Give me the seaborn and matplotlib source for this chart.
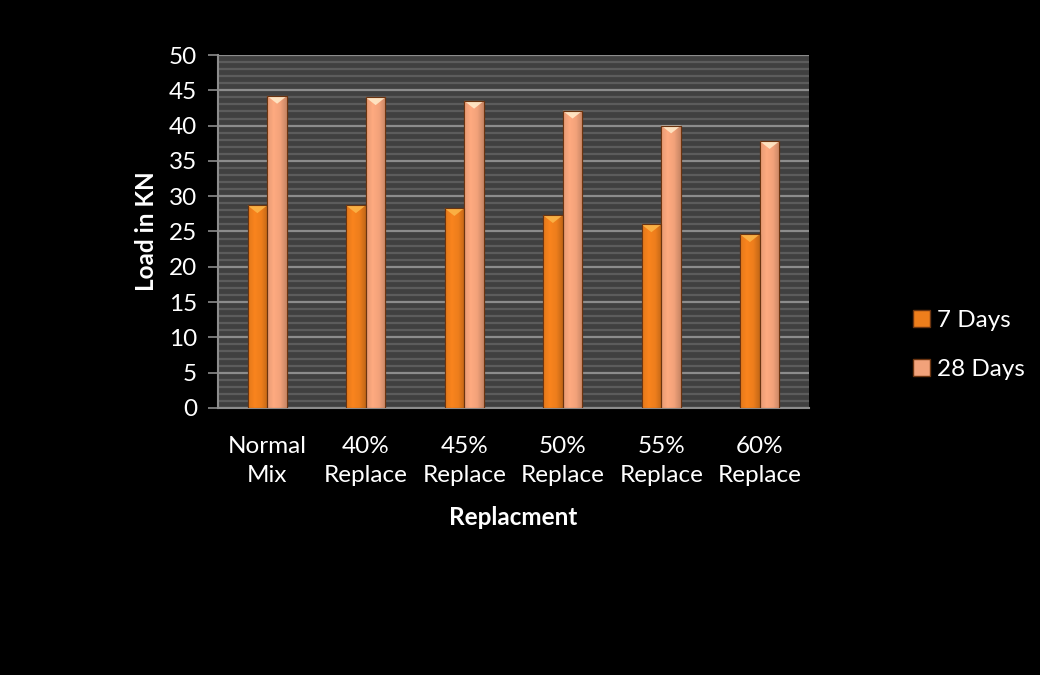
import numpy as np
import pandas as pd
import seaborn as sns
import matplotlib.pyplot as plt
from matplotlib.patches import Polygon, Patch
from matplotlib.colors import LinearSegmentedColormap, to_rgb
from matplotlib.ticker import MultipleLocator

# Load (kN) for each mix at two curing ages
categories = ["Normal\nMix", "40%\nReplace", "45%\nReplace", "50%\nReplace", "55%\nReplace", "60%\nReplace"]
days_7 = [28.7, 28.7, 28.3, 27.3, 26.0, 24.6]
days_28 = [44.2, 44.0, 43.5, 42.1, 40.0, 37.8]
series = ["7 Days", "28 Days"]
y_ticks = list(range(0, 51, 5))

colors = ["#EE7E1C", "#F2A27A"]
top_colors = ["#FBB548", "#FFE9C8"]
FS = 17.5

df = pd.DataFrame({
    "Replacment": categories * 2,
    "Load": days_7 + days_28,
    "Age": [series[0]] * len(categories) + [series[1]] * len(categories),
})

sns.set_theme(style="dark")
plt.rcParams["font.family"] = ["Lato", "DejaVu Sans"]

fig = plt.figure(figsize=(10.4, 6.75), dpi=100, facecolor="black")
ax = fig.add_axes([0.2096, 0.3956, 0.5683, 0.5229])
ax.set_facecolor("#404040")

sns.barplot(data=df, x="Replacment", y="Load", hue="Age", hue_order=series,
            palette=colors, width=0.4, saturation=1, legend=False,
            edgecolor="#6b3410", linewidth=0.8, ax=ax, zorder=3)

ax.set_ylim(0, 50)
xlim = ax.get_xlim()

# Shade each bar with a horizontal gradient and a bevelled top
def shade(c, f):
    r = np.array(to_rgb(c)) * f
    return tuple(np.clip(r, 0, 1))

bars = [p for p in ax.patches]
n = len(categories)
for i, bar in enumerate(bars):
    k = 0 if i < n else 1
    base = colors[k]
    x0 = bar.get_x()
    w = bar.get_width()
    h = bar.get_height()
    cmap = LinearSegmentedColormap.from_list(
        "g", [shade(base, 0.95), shade(base, 1.05), base, shade(base, 0.82)])
    grad = np.linspace(0, 1, 64).reshape(1, -1)
    im = ax.imshow(grad, extent=[x0, x0 + w, 0, h], aspect="auto", cmap=cmap,
                   zorder=3.5, origin="lower")
    im.set_clip_path(bar)
    tri_h = 1.1
    ax.add_patch(Polygon([(x0, h), (x0 + w, h), (x0 + w / 2, h - tri_h)],
                         closed=True, facecolor=top_colors[k], edgecolor="none",
                         alpha=0.9, zorder=4))
    ax.add_patch(Polygon([(x0, h), (x0 + w, h), (x0 + w, 0), (x0, 0)],
                         closed=True, facecolor="none", edgecolor="#6b3410",
                         linewidth=0.8, zorder=4.5))

ax.set_xlim(xlim)
ax.set_ylim(0, 50)

# Grid: light major lines every 5, darker minor lines every 1
ax.yaxis.set_major_locator(MultipleLocator(5))
ax.yaxis.set_minor_locator(MultipleLocator(1))
ax.set_yticks(y_ticks)
ax.grid(which="major", axis="y", color="#8c8c8c", linewidth=1.6, zorder=1)
ax.grid(which="minor", axis="y", color="#5c5c5c", linewidth=1.6, zorder=1)
ax.grid(which="major", axis="x", visible=False)
ax.set_axisbelow(True)

for side in ["top", "right"]:
    ax.spines[side].set_visible(False)
ax.spines["left"].set_color("#8c8c8c")
ax.spines["bottom"].set_color("#8c8c8c")
ax.spines["left"].set_linewidth(1.5)
ax.spines["bottom"].set_linewidth(1.5)

ax.tick_params(axis="y", which="major", left=True, length=7, width=1.2,
               color="#8c8c8c", labelcolor="white", labelsize=FS, pad=8)
ax.tick_params(axis="y", which="minor", left=False)
ax.tick_params(axis="x", bottom=False, length=0, labelcolor="white",
               labelsize=FS, pad=20)
for lab in ax.get_xticklabels():
    lab.set_linespacing(1.5)

ax.set_xlabel("Replacment", color="white", fontsize=FS, fontweight="bold", labelpad=14)
ax.set_ylabel("Load in KN", color="white", fontsize=FS, fontweight="bold", labelpad=8)

handles = [Patch(facecolor=colors[0], edgecolor="#6b3410"),
           Patch(facecolor=colors[1], edgecolor="#6b3410")]
leg = fig.legend(handles, series, loc="center left", bbox_to_anchor=(0.857, 0.489),
                 frameon=False, fontsize=FS, labelcolor="white",
                 handlelength=0.7, handleheight=0.7, handletextpad=0.3,
                 labelspacing=1.15)

fig.savefig("out.png", dpi=100, facecolor="black")
